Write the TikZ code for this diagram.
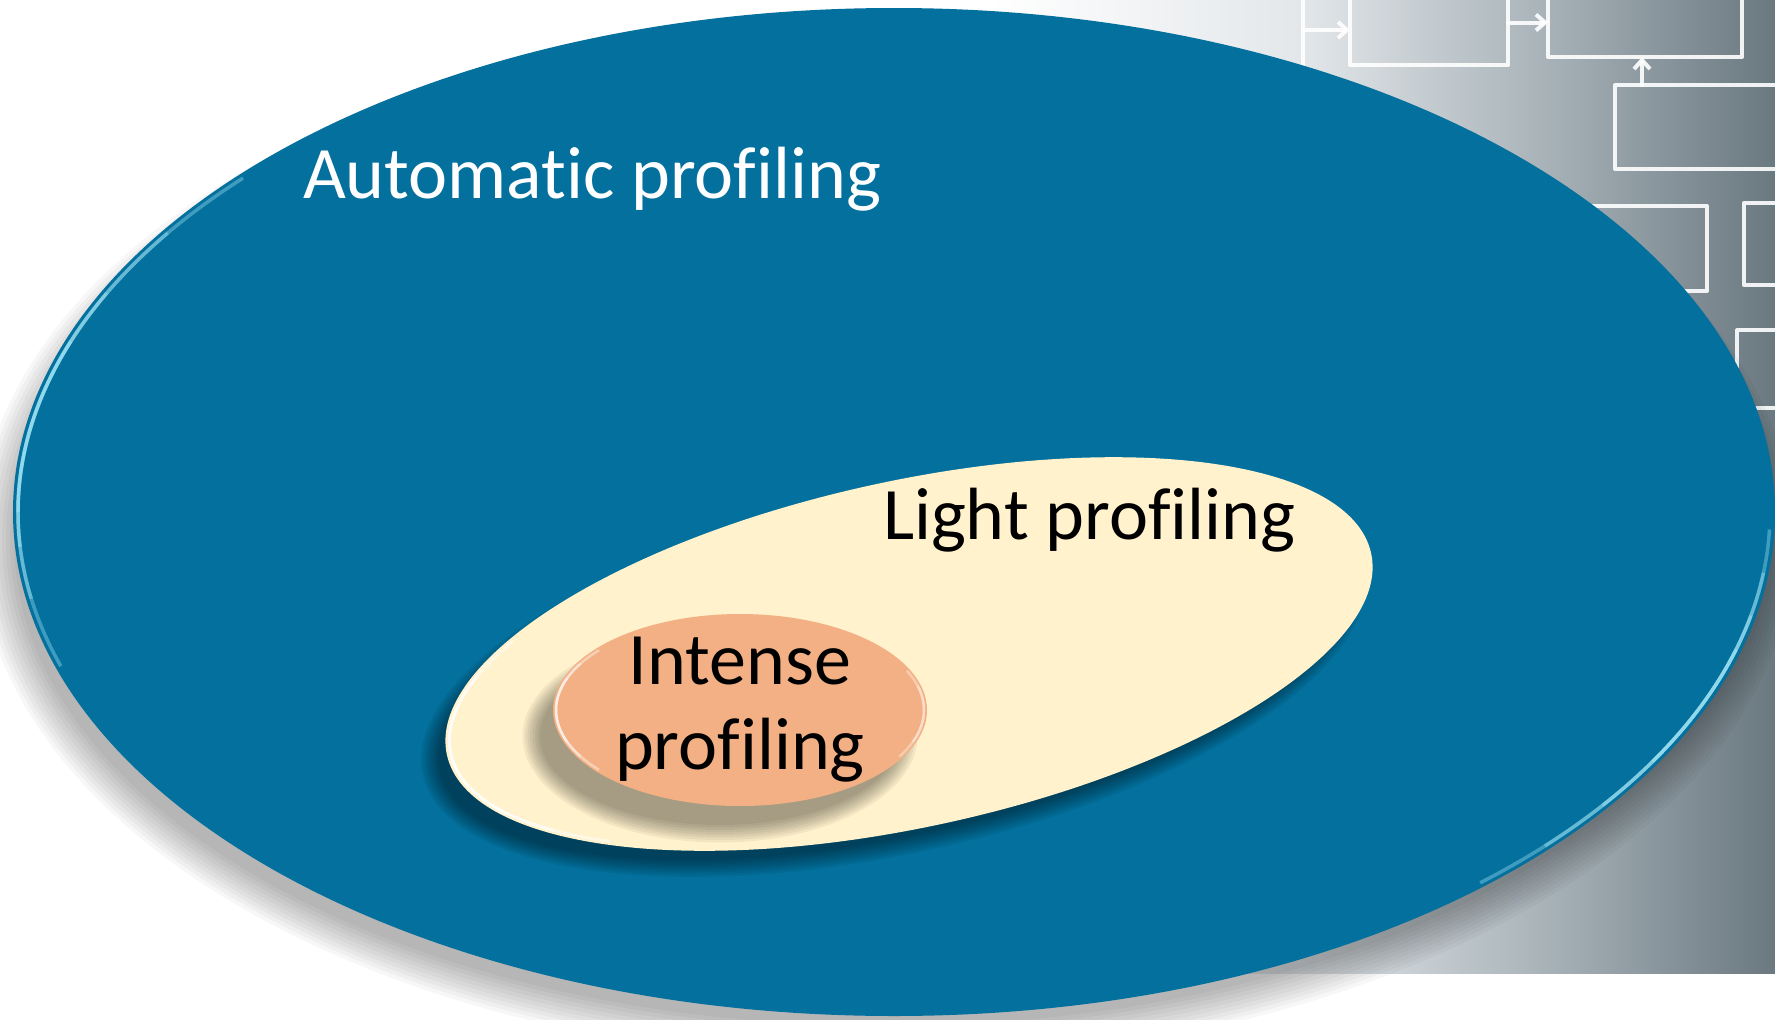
\documentclass[tikz,border=0pt]{standalone}
\usepackage{fontspec}
\setmainfont{Carlito}[Ligatures=NoCommon]
\usetikzlibrary{shapes.geometric,arrows.meta}
\definecolor{bluemain}{HTML}{03709D}
\definecolor{creamfill}{HTML}{FFF2CC}
\definecolor{orangefill}{HTML}{F3B084}
\definecolor{bgA}{HTML}{E3E7EA}
\definecolor{bgB}{HTML}{A4AFB5}
\definecolor{bgC}{HTML}{6A7880}
\definecolor{rimblue}{HTML}{B0F0FF}
\begin{document}
\begin{tikzpicture}[x=1pt,y=-1pt,
  sketchbox/.style={draw=white, line width=4pt, draw opacity=0.9, inner sep=0pt, outer sep=0pt, line join=round},
  sketch/.style={draw=white, line width=4pt, draw opacity=0.9, line join=round, line cap=round},
  sketcharrow/.style={sketch, -{Straight Barb[length=9pt,width=16pt]}},
  blob/.style={ellipse, inner sep=0pt, outer sep=0pt, draw=none},
  lbl/.style={font=\fontsize{74pt}{85pt}\selectfont, inner sep=0pt, outer sep=0pt},
]
\useasboundingbox (0,0) rectangle (1775,1020);
\fill[white] (0,0) rectangle (1775,1020);

% background picture (gradient with a sketched flowchart)
\shade[left color=white,right color=bgA] (990,0) rectangle (1301,973);
\shade[left color=bgA,right color=bgB] (1300,0) rectangle (1561,973);
\shade[left color=bgB,right color=bgC] (1560,0) rectangle (1775,973);

\node[sketchbox, minimum width=158pt, minimum height=85pt, anchor=north west] (fa) at (1350,-20) {};
\node[sketchbox, minimum width=194pt, minimum height=69pt, anchor=north west] (fb) at (1548,-12) {};
\node[sketchbox, minimum width=180pt, minimum height=84pt, anchor=north west] (fc) at (1615,85) {};
\node[sketchbox, minimum width=147pt, minimum height=85pt, anchor=north west] (fd) at (1560,206) {};
\node[sketchbox, minimum width=60pt, minimum height=82pt, anchor=north west] (fe) at (1744,203) {};
\node[sketchbox, minimum width=60pt, minimum height=78pt, anchor=north west] (ff) at (1737,330) {};
\coordinate (ftop) at (1303,-5);
\coordinate (fbot) at (1303,80);
\coordinate (fl) at (1303,30);
\draw[sketch] (ftop) -- (fbot);
\draw[sketcharrow] (fl) -- (fa.west |- fl);
\draw[sketcharrow] (fa.east) -- (fb.west);
\draw[sketcharrow] (fc.north -| 1642,0) -- (fb.south -| 1642,0);

% shadow of the outer ellipse
\foreach \k in {0,...,9} {
  \fill[black, opacity=0.032] (886,540) ellipse [x radius={872pt+\k*4pt}, y radius={486pt+\k*4pt}];
}
% outer ellipse
\node[blob, fill=bluemain, minimum width=1762pt, minimum height=1008pt] (autoell) at (894,512) {};
\begin{scope}[shift={(894,512)}]
  \foreach \a/\b in {138/198,146/190,154/184,160/180} {
    \draw[rimblue, line width=3.5pt, opacity=0.35] (\a:876pt and 499pt) arc[start angle=\a, end angle=\b, x radius=876pt, y radius=499pt];
  }
  \foreach \a/\b in {-48/-2,-42/-7,-36/-12,-30/-16} {
    \draw[rimblue, line width=3.5pt, opacity=0.35] (\a:876pt and 499pt) arc[start angle=\a, end angle=\b, x radius=876pt, y radius=499pt];
  }
\end{scope}

% shadow of the light-profiling ellipse
\begin{scope}[shift={(893,672)}, rotate=12.3]
  \foreach \k in {0,...,7} {
    \fill[black, opacity=0.06] (0,0) ellipse [x radius={464pt+\k*2.5pt}, y radius={164pt+\k*2.5pt}];
  }
\end{scope}
\node[blob, fill=creamfill, minimum width=946pt, minimum height=346pt, rotate=12.3] (lightell) at (909,654) {};
\begin{scope}[shift={(909,654)}, rotate=12.3]
  \foreach \a/\b in {145/225,155/215,165/205} {
    \draw[white, line width=3pt, opacity=0.5] (\a:469pt and 169pt) arc[start angle=\a, end angle=\b, x radius=469pt, y radius=169pt];
  }
\end{scope}

% shadow of the intense-profiling ellipse
\foreach \k in {0,...,7} {
  \fill[black, opacity=0.05] (720,736) ellipse [x radius={180pt+\k*2.5pt}, y radius={89pt+\k*2.5pt}];
}
\node[blob, fill=orangefill, minimum width=374pt, minimum height=192pt] (intenseell) at (740,710) {};
\begin{scope}[shift={(740,710)}]
  \foreach \a/\b in {140/220,150/210,160/200} {
    \draw[white, line width=2.5pt, opacity=0.4] (\a:184pt and 93pt) arc[start angle=\a, end angle=\b, x radius=184pt, y radius=93pt];
  }
  \foreach \a/\b in {-30/25,-20/15} {
    \draw[white, line width=2.5pt, opacity=0.35] (\a:184pt and 93pt) arc[start angle=\a, end angle=\b, x radius=184pt, y radius=93pt];
  }
\end{scope}

% labels
\node[lbl, text=white, anchor=base west] (autolbl) at (303,198) {Automatic profiling};
\node[lbl, text=black, anchor=base west] (lightlbl) at (883,539) {Light profiling};
\node[lbl, text=black, align=center] (intenselbl) at (740,710) {Intense\\profiling};
\end{tikzpicture}
\end{document}
